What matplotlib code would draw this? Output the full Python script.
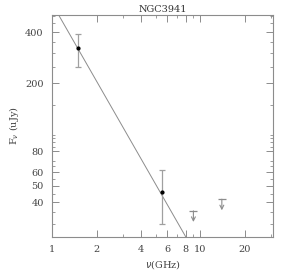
import numpy as np
import matplotlib
matplotlib.use("Agg")
import matplotlib.pyplot as plt
from matplotlib.ticker import FixedLocator, NullFormatter, FixedFormatter

# detections
freq = [1.5, 5.5]
flux = [322, 46]
flux_lo = [248, 30]
flux_hi = [389, 62]

# upper limits
lim_freq = [9.0, 14.0]
lim_flux = [35.6, 41.7]

# power-law fit S = amp * nu^alpha
amp = 590.0
alpha = -1.52

xticks = [1, 2, 4, 6, 8, 10, 20]
yticks = [40, 50, 60, 80, 200, 400]

grey = "#8c8c8c"
plt.rcParams["font.family"] = ["DejaVu Serif"]

fig = plt.figure(figsize=(2.98, 2.71), dpi=100)
ax = fig.add_axes([0.1745, 0.1255, 0.7416, 0.819])
ax.set_xscale("log")
ax.set_yscale("log")

nu = np.logspace(0, np.log10(31), 200)
ax.plot(nu, amp * nu ** alpha, color=grey, lw=0.7)

yerr = [np.array(flux) - np.array(flux_lo), np.array(flux_hi) - np.array(flux)]
ax.errorbar(freq, flux, yerr=yerr, fmt="o", color="black", ms=2,
            ecolor="#a0a0a0", elinewidth=0.9, capsize=2, capthick=0.9)

ax.plot(lim_freq, lim_flux, "_", color=grey, ms=6, mew=0.9)
for f, s in zip(lim_freq, lim_flux):
    ax.annotate("", xy=(f, s), xycoords="data",
                xytext=(0, -8), textcoords="offset points",
                arrowprops=dict(arrowstyle="<-", color=grey, lw=0.8,
                                mutation_scale=7, shrinkA=0, shrinkB=0))

ax.set_xlim(1, 31)
ax.set_ylim(25, 504)

ax.xaxis.set_major_locator(FixedLocator(xticks))
ax.xaxis.set_major_formatter(FixedFormatter([str(t) for t in xticks]))
ax.xaxis.set_minor_locator(FixedLocator([3, 5, 7, 9, 30]))
ax.xaxis.set_minor_formatter(NullFormatter())
ax.yaxis.set_major_locator(FixedLocator(yticks))
ax.yaxis.set_major_formatter(FixedFormatter([str(t) for t in yticks]))
ax.yaxis.set_minor_locator(FixedLocator([30, 35, 45, 55, 65, 70, 85, 90, 95, 100,
                                         150, 250, 300, 350, 450, 500]))
ax.yaxis.set_minor_formatter(NullFormatter())

ax.tick_params(which="both", direction="in", top=True, right=True,
               color=grey, labelsize=7, labelcolor="#444444", pad=6)
ax.tick_params(which="major", length=5, width=0.7)
ax.tick_params(which="minor", length=2.5, width=0.6)
for sp in ax.spines.values():
    sp.set_color(grey)
    sp.set_linewidth(0.8)

ax.set_title("NGC3941", fontsize=7, color="#333333", pad=2)
ax.set_xlabel(r"$\nu$(GHz)", fontsize=7, color="#444444", labelpad=3)
ax.set_ylabel(r"F$_\nu$ (uJy)", fontsize=7, color="#444444", labelpad=3)

fig.savefig("out.png", dpi=100)
